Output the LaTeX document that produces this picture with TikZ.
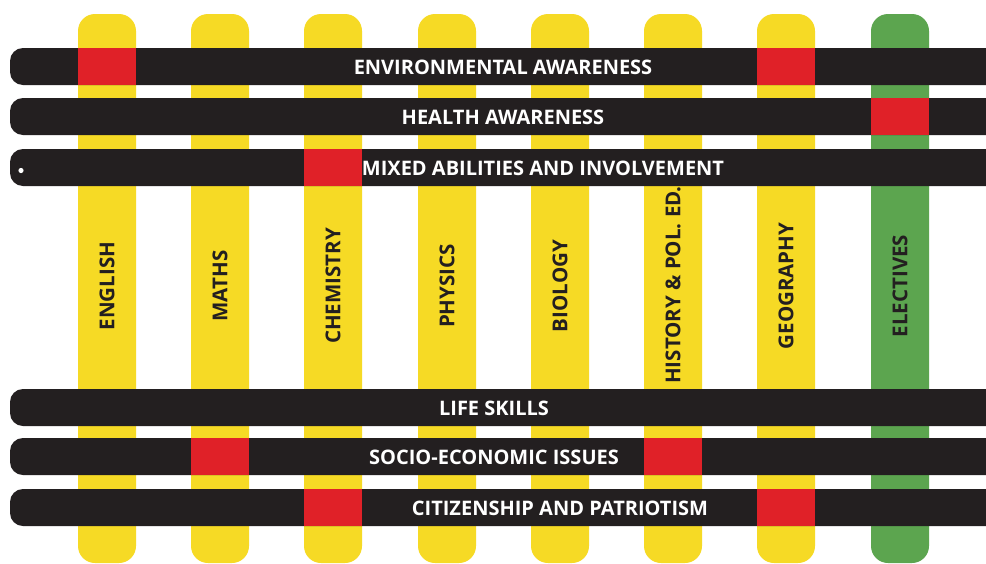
\documentclass[tikz,border=0pt]{standalone}
\usepackage{fontspec}
\setmainfont{Open Sans}
\definecolor{barY}{HTML}{F6DA25}
\definecolor{barG}{HTML}{5CA54F}
\definecolor{barR}{HTML}{E02128}
\definecolor{barK}{HTML}{231F20}
\begin{document}
\begin{tikzpicture}[x=1pt,y=-1pt,
  vbar/.style={rounded corners=17pt},
  hbar/.style={fill=barK, rounded corners=13pt},
  cross/.style={fill=barR},
  vtext/.style={rotate=90, text=barK, inner sep=0pt, font=\bfseries\fontsize{20.5}{21}\selectfont},
  htext/.style={text=white, inner sep=0pt, font=\bfseries\fontsize{20}{20}\selectfont}]
\useasboundingbox (0,0) rectangle (986,563);
\fill[white] (0,0) rectangle (986,563);
\begin{scope}
\clip (0,0) rectangle (986,563);
% vertical subject bars
\foreach \x/\c in {78/barY,191/barY,304/barY,418/barY,531/barY,644/barY,757/barY,871/barG}
  \fill[vbar,\c] (\x,14) rectangle (\x+58,563);
% horizontal theme bars
\foreach \y in {48,98,149,389,438,489}
  \fill[hbar] (10,\y) rectangle (1000,\y+37);
% red intersections
\fill[cross] (78,48) rectangle (136,85);
\fill[cross] (757,48) rectangle (815,85);
\fill[cross] (871,98) rectangle (929,135);
\fill[cross] (304,149) rectangle (362,186);
\fill[cross] (191,438) rectangle (249,475);
\fill[cross] (644,438) rectangle (702,475);
\fill[cross] (304,489) rectangle (362,526);
\fill[cross] (757,489) rectangle (815,526);
\end{scope}
% dot
\fill[white] (21,170.5) circle (2.6);
% subject labels
\node[vtext] (english) at (107,286) {ENGLISH};
\node[vtext] (maths) at (220,286) {MATHS};
\node[vtext] (chem) at (333,286) {CHEMISTRY};
\node[vtext] (phys) at (447,286) {PHYSICS};
\node[vtext] (bio) at (560,286) {BIOLOGY};
\node[vtext] (hist) at (673,285) {HISTORY \& POL. ED.};
\node[vtext] (geo) at (786,286) {GEOGRAPHY};
\node[vtext] (elec) at (900,286) {ELECTIVES};
% theme labels
\node[htext] (env) at (503,67) {ENVIRONMENTAL AWARENESS};
\node[htext] (health) at (503,117) {HEALTH AWARENESS};
\node[htext] (mixed) at (543,168) {MIXED ABILITIES AND INVOLVEMENT};
\node[htext] (life) at (494,408) {LIFE SKILLS};
\node[htext] (socio) at (494,457) {SOCIO-ECONOMIC ISSUES};
\node[htext] (citizen) at (560,508) {CITIZENSHIP AND PATRIOTISM};
\end{tikzpicture}
\end{document}
